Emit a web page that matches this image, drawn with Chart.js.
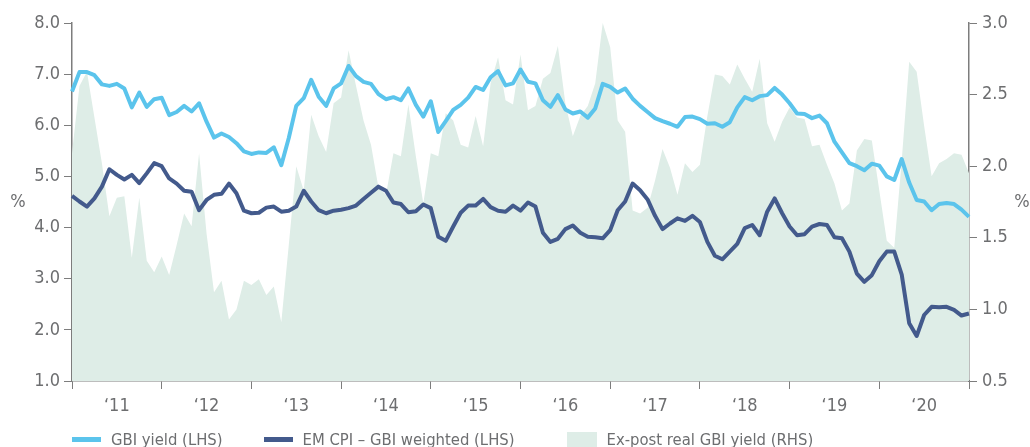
<!DOCTYPE html>
<html>
<head>
<meta charset="utf-8">
<script src="https://cdn.jsdelivr.net/npm/chart.js@4.4.1/dist/chart.umd.min.js"></script>
<style>
    html, body { margin: 0; padding: 0; background: #fff; }
    #wrap { position: relative; width: 1030px; height: 447px; overflow: hidden; }
    #legend { position: absolute; left: 72px; top: 430px; display: flex; height: 19px; }
    .item { display: flex; align-items: center; height: 19px; margin-right: 41px; white-space: nowrap;
            font: 16.5px 'Liberation Sans Narrow', 'DejaVu Sans Condensed', Roboto, sans-serif; color: #6d6e70; }
    .item:nth-child(2) { margin-right: 52px; }
    .swatch { margin-right: 10px; }
</style>
</head>
<body>
<div id="wrap">
    <canvas id="realYieldChart" width="1030" height="447"></canvas>
    <div id="legend"></div>
</div>
<script>
// monthly observations, Jan 2011 .. Jan 2021
const months = [];
for (let y = 2011; y <= 2020; y++) {
    for (let m = 1; m <= 12; m++) months.push(y + '-' + String(m).padStart(2, '0'));
}
months.push('2021-01');

const yearLabels = ['\u201811', '\u201812', '\u201813', '\u201814', '\u201815',
                    '\u201816', '\u201817', '\u201818', '\u201819', '\u201820'];

const gbiYield = [
    6.66, 7.04, 7.04, 6.98, 6.80, 6.77, 6.81, 6.72, 6.35, 6.64, 6.36, 6.51,
    6.54, 6.20, 6.26, 6.38, 6.27, 6.43, 6.07, 5.76, 5.84, 5.77, 5.65, 5.49,
    5.44, 5.47, 5.46, 5.57, 5.22, 5.75, 6.38, 6.53, 6.89, 6.56, 6.38, 6.72,
    6.82, 7.16, 6.96, 6.85, 6.81, 6.61, 6.51, 6.55, 6.49, 6.72, 6.40, 6.17,
    6.47, 5.87, 6.08, 6.30, 6.40, 6.54, 6.75, 6.69, 6.94, 7.06, 6.78, 6.82,
    7.09, 6.85, 6.82, 6.49, 6.36, 6.59, 6.31, 6.23, 6.27, 6.15, 6.33, 6.81,
    6.75, 6.64, 6.72, 6.52, 6.38, 6.26, 6.14, 6.08, 6.03, 5.97, 6.16, 6.17,
    6.12, 6.03, 6.04, 5.97, 6.06, 6.35, 6.55, 6.49, 6.57, 6.59, 6.73, 6.60,
    6.43, 6.23, 6.22, 6.14, 6.19, 6.04, 5.68, 5.47, 5.26, 5.20, 5.12, 5.25,
    5.21, 5.00, 4.93, 5.34, 4.88, 4.54, 4.51, 4.34, 4.46, 4.48, 4.46, 4.35,
    4.21
];

const emCpiGbiWeighted = [
    4.62, 4.51, 4.41, 4.57, 4.80, 5.14, 5.03, 4.94, 5.03, 4.87, 5.06, 5.26,
    5.20, 4.96, 4.86, 4.72, 4.70, 4.34, 4.54, 4.64, 4.66, 4.86, 4.67, 4.33,
    4.28, 4.29, 4.39, 4.41, 4.31, 4.33, 4.41, 4.72, 4.51, 4.34, 4.28, 4.33,
    4.35, 4.38, 4.43, 4.56, 4.68, 4.80, 4.72, 4.49, 4.46, 4.30, 4.32, 4.45,
    4.38, 3.82, 3.74, 4.02, 4.29, 4.43, 4.43, 4.56, 4.40, 4.33, 4.31, 4.43,
    4.33, 4.49, 4.41, 3.90, 3.72, 3.78, 3.97, 4.04, 3.90, 3.82, 3.81, 3.79,
    3.95, 4.34, 4.51, 4.86, 4.73, 4.55, 4.23, 3.97, 4.08, 4.18, 4.13, 4.23,
    4.11, 3.72, 3.45, 3.38, 3.53, 3.68, 3.99, 4.05, 3.85, 4.31, 4.57, 4.28,
    4.02, 3.85, 3.87, 4.02, 4.07, 4.05, 3.81, 3.79, 3.53, 3.10, 2.94, 3.07,
    3.34, 3.53, 3.53, 3.08, 2.13, 1.88, 2.29, 2.45, 2.44, 2.45, 2.39, 2.28,
    2.32
];

const expostRealYield = [
    2.09, 2.56, 2.66, 2.34, 2.02, 1.65, 1.78, 1.79, 1.36, 1.78, 1.34, 1.26,
    1.37, 1.24, 1.45, 1.67, 1.58, 2.09, 1.53, 1.12, 1.20, 0.93, 1.00, 1.20,
    1.17, 1.21, 1.10, 1.16, 0.91, 1.45, 2.00, 1.83, 2.36, 2.21, 2.10, 2.44,
    2.48, 2.81, 2.56, 2.32, 2.15, 1.85, 1.80, 2.09, 2.07, 2.43, 2.07, 1.74,
    2.09, 2.07, 2.37, 2.32, 2.15, 2.13, 2.35, 2.14, 2.58, 2.76, 2.46, 2.43,
    2.78, 2.39, 2.42, 2.61, 2.65, 2.84, 2.44, 2.21, 2.35, 2.42, 2.58, 3.00,
    2.83, 2.32, 2.24, 1.69, 1.67, 1.71, 1.90, 2.12, 1.99, 1.80, 2.02, 1.96,
    2.01, 2.35, 2.64, 2.63, 2.57, 2.71, 2.61, 2.52, 2.75, 2.30, 2.17, 2.31,
    2.41, 2.34, 2.33, 2.14, 2.15, 2.01, 1.88, 1.69, 1.74, 2.11, 2.19, 2.18,
    1.83, 1.48, 1.43, 2.04, 2.73, 2.66, 2.28, 1.93, 2.02, 2.05, 2.09, 2.08,
    1.95
];

const FONT = "'Liberation Sans Narrow', 'DejaVu Sans Condensed', Roboto, sans-serif";
const TEXT = '#6d6e70';
const AXIS = '#7d7d7d';
const LIGHT = '#5bc4ec';
const DARK = '#435a8c';
const AREA = '#deede7';

Chart.defaults.font.family = FONT;
Chart.defaults.font.size = 18;
Chart.defaults.color = TEXT;

// the two "%" unit marks beside the value axes
const unitLabels = {
    id: 'unitLabels',
    afterDraw(chart) {
        const { ctx, chartArea } = chart;
        const mid = (chartArea.top + chartArea.bottom) / 2;
        ctx.save();
        ctx.font = '18px ' + FONT;
        ctx.fillStyle = TEXT;
        ctx.textAlign = 'center';
        ctx.textBaseline = 'middle';
        ctx.fillText('%', 18, mid);
        ctx.fillText('%', 1022, mid);
        ctx.restore();
    }
};

const axisGrid = { drawOnChartArea: false, drawTicks: true, tickLength: 8, color: AXIS, lineWidth: 1 };
const axisBorder = { display: true, color: AXIS, width: 1.5 };

const ctx = document.getElementById('realYieldChart').getContext('2d');
const chart = new Chart(ctx, {
    type: 'line',
    data: {
        labels: months,
        datasets: [
            {
                label: 'GBI yield (LHS)',
                data: gbiYield,
                yAxisID: 'y',
                borderColor: LIGHT,
                borderWidth: 4,
                borderJoinStyle: 'round',
                pointRadius: 0,
                tension: 0,
                fill: false
            },
            {
                label: 'EM CPI \u2013 GBI weighted (LHS)',
                data: emCpiGbiWeighted,
                yAxisID: 'y',
                borderColor: DARK,
                borderWidth: 4,
                borderJoinStyle: 'round',
                pointRadius: 0,
                tension: 0,
                fill: false
            },
            {
                label: 'Ex-post real GBI yield (RHS)',
                data: expostRealYield,
                yAxisID: 'y2',
                backgroundColor: AREA,
                borderWidth: 0,
                borderColor: AREA,
                pointRadius: 0,
                tension: 0,
                fill: 'start'
            }
        ]
    },
    options: {
        responsive: false,
        animation: false,
        devicePixelRatio: 1,
        events: [],
        layout: { padding: { top: 23, bottom: 28, left: 0, right: 0 } },
        plugins: {
            legend: { display: false },
            tooltip: { enabled: false }
        },
        scales: {
            x: {
                position: 'bottom',
                offset: false,
                grid: axisGrid,
                border: axisBorder,
                ticks: { autoSkip: false, maxRotation: 0, callback: () => '' },
                afterBuildTicks: (axis) => { axis.ticks = axis.ticks.filter(t => t.value % 12 === 0); },
                afterFit: (axis) => { axis.height = 8; }
            },
            xl: {
                position: 'bottom',
                offset: false,
                grid: { display: false, drawTicks: false },
                border: { display: false },
                ticks: {
                    autoSkip: false,
                    maxRotation: 0,
                    padding: 7,
                    callback: (value) => yearLabels[Math.floor(value / 12)]
                },
                afterBuildTicks: (axis) => { axis.ticks = axis.ticks.filter(t => t.value % 12 === 6); },
                afterFit: (axis) => { axis.height = 30; }
            },
            y: {
                position: 'left',
                min: 1,
                max: 8,
                grid: axisGrid,
                border: axisBorder,
                ticks: { stepSize: 1, padding: 4, callback: (v) => v.toFixed(1) },
                afterFit: (axis) => { axis.width = 72; }
            },
            y2: {
                position: 'right',
                min: 0.5,
                max: 3,
                grid: axisGrid,
                border: axisBorder,
                ticks: { stepSize: 0.5, padding: 5, callback: (v) => v.toFixed(1) },
                afterFit: (axis) => { axis.width = 61; }
            }
        }
    },
    plugins: [unitLabels]
});

// legend below the chart
const legend = document.getElementById('legend');
chart.data.datasets.forEach((ds) => {
    const item = document.createElement('div');
    item.className = 'item';
    const sw = document.createElement('span');
    sw.className = 'swatch';
    if (ds.fill === 'start') {
        sw.style.cssText = 'display:inline-block;width:30px;height:19px;margin-top:4px;background:' + ds.backgroundColor;
    } else {
        sw.style.cssText = 'display:inline-block;width:29px;height:4.5px;background:' + ds.borderColor;
    }
    item.appendChild(sw);
    item.appendChild(document.createTextNode(ds.label));
    legend.appendChild(item);
});
</script>
</body>
</html>
